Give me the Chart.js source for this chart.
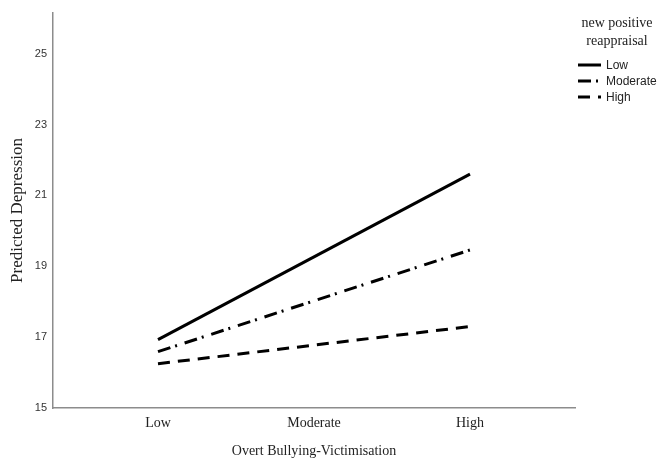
<!DOCTYPE html>
<html lang="en">
<head>
<meta charset="UTF-8">
<title>Predicted Depression</title>
<script src="https://cdn.jsdelivr.net/npm/chart.js"></script>
<style>
    body{
        margin: 0;
        background-color: #fff;
    }
</style>
</head>
<body>
<canvas id="chart" width="657" height="460"></canvas>
<script>
    // x axis: level of overt bullying-victimisation
    const xLabels = ['Low', 'Moderate', 'High'];
    const xPositions = [1, 3];          // lines only have end points (Low and High)
    const xTickValues = [1, 2, 3];
    const yTickValues = [15, 17, 19, 21, 23, 25];

    // moderator groups: new positive reappraisal
    const groupNames = ['Low', 'Moderate', 'High'];
    const lowReappraisal = [16.93, 21.60];
    const moderateReappraisal = [16.59, 19.46];
    const highReappraisal = [16.25, 17.30];

    const legendTitle = ['new positive', 'reappraisal'];

    const serif = "'Liberation Serif', 'DejaVu Serif', serif";
    const sans = "'Liberation Sans', Arial, sans-serif";
    const axisGrey = '#8c8c8c';

    function toPoints(values) {
        return values.map((v, i) => ({ x: xPositions[i], y: v }));
    }

    // legend drawn by hand so it can sit in the right margin like the original
    const sideLegend = {
        id: 'sideLegend',
        afterDraw(chart) {
            const ctx = chart.ctx;
            ctx.save();
            ctx.fillStyle = '#222';
            ctx.font = '14px ' + serif;
            ctx.textAlign = 'center';
            ctx.textBaseline = 'middle';
            legendTitle.forEach((t, i) => ctx.fillText(t, 617, 23 + i * 18));

            ctx.font = '12px ' + sans;
            ctx.textAlign = 'left';
            chart.data.datasets.forEach((ds, i) => {
                const y = 65 + i * 16;
                ctx.strokeStyle = ds.borderColor;
                ctx.lineWidth = 3;
                ctx.setLineDash(ds.borderDash || []);
                ctx.beginPath();
                ctx.moveTo(578, y);
                ctx.lineTo(601, y);
                ctx.stroke();
                ctx.fillText(ds.label, 606, y + 1);
            });
            ctx.restore();
        }
    };

    new Chart(document.getElementById('chart'), {
        type: 'line',
        data: {
            datasets: [
                {
                    label: groupNames[0],
                    data: toPoints(lowReappraisal),
                    borderColor: '#000',
                    borderWidth: 3,
                    borderDash: []
                },
                {
                    label: groupNames[1],
                    data: toPoints(moderateReappraisal),
                    borderColor: '#000',
                    borderWidth: 3,
                    borderDash: [13, 5, 2, 8]
                },
                {
                    label: groupNames[2],
                    data: toPoints(highReappraisal),
                    borderColor: '#000',
                    borderWidth: 3,
                    borderDash: [12, 8]
                }
            ]
        },
        options: {
            responsive: false,
            animation: false,
            layout: { padding: { top: 13, right: 82, left: 0, bottom: 0 } },
            elements: {
                point: { radius: 0, hoverRadius: 0 },
                line: { tension: 0, borderCapStyle: 'butt' }
            },
            plugins: {
                legend: { display: false },
                tooltip: { enabled: false }
            },
            scales: {
                x: {
                    type: 'linear',
                    min: 0.327,
                    max: 3.673,
                    afterBuildTicks: s => { s.ticks = xTickValues.map(v => ({ value: v })); },
                    afterFit: s => { s.height = 52; },
                    grid: { display: false, drawTicks: false },
                    border: { display: true, color: axisGrey, width: 1.5 },
                    ticks: {
                        padding: 7,
                        color: '#222',
                        font: { family: serif, size: 14 },
                        callback: (v) => xLabels[xTickValues.indexOf(v)]
                    },
                    title: {
                        display: true,
                        text: 'Overt Bullying-Victimisation',
                        color: '#222',
                        font: { family: serif, size: 14 },
                        padding: { top: 0, bottom: 0 }
                    }
                },
                y: {
                    min: 15,
                    max: 26.15,
                    afterBuildTicks: s => { s.ticks = yTickValues.map(v => ({ value: v })); },
                    afterFit: s => { s.width = 53; },
                    grid: { display: false, drawTicks: false },
                    border: { display: true, color: axisGrey, width: 1.5 },
                    ticks: {
                        padding: 6,
                        color: '#333',
                        font: { family: sans, size: 11 }
                    },
                    title: {
                        display: true,
                        text: 'Predicted Depression',
                        color: '#222',
                        font: { family: serif, size: 17 },
                        padding: { top: 7, bottom: 0 }
                    }
                }
            }
        },
        plugins: [sideLegend]
    });
</script>
</body>
</html>
